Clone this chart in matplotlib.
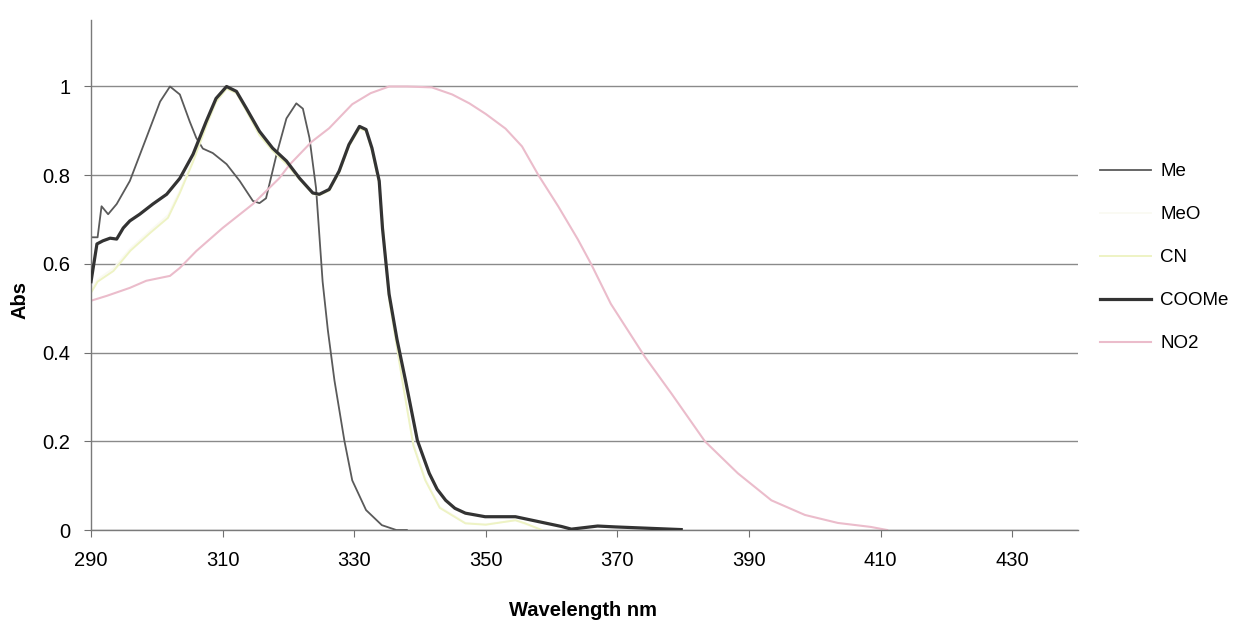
import matplotlib
matplotlib.use("Agg")
import matplotlib.pyplot as plt

plt.rcParams["font.family"] = ["Liberation Sans", "DejaVu Sans"]

OUTPUT_PNG = "out.png"

# Wavelength (nm) / absorbance
me_wl = [290, 291, 291.6, 292.6, 293.9, 295.9, 298.4, 300.5, 302, 303.5, 305, 306, 307,
         308.5, 310.6, 312.6, 314.6, 315.6, 316.6, 318.2, 319.7, 321.2, 322.2, 323.2,
         324.2, 325.2, 326, 327, 328.5, 329.7, 331.8, 334.2, 336.4, 338]
me_abs = [0.66, 0.66, 0.73, 0.712, 0.735, 0.787, 0.884, 0.966, 1.0, 0.982, 0.921, 0.884, 0.86,
          0.85, 0.825, 0.787, 0.742, 0.737, 0.748, 0.847, 0.928, 0.962, 0.95, 0.884,
          0.771, 0.56, 0.45, 0.337, 0.202, 0.112, 0.045, 0.011, 0.0, 0.0]

meo_wl = [290, 291, 293.4, 296, 299, 301.7, 303.5, 305.5, 307.5, 309, 310.6, 312.1, 313.6,
          315.6, 317.6, 319.7, 321.7, 323.7, 324.7, 326.2, 327.7, 329.2, 330.8, 331.8,
          332.7, 333.8, 335.3, 337.5, 339, 340.8, 343, 346.9, 350, 354.5, 358.5]
meo_abs = [0.54, 0.565, 0.59, 0.635, 0.675, 0.71, 0.765, 0.835, 0.915, 0.968, 0.997, 0.987, 0.948,
           0.893, 0.858, 0.828, 0.792, 0.759, 0.756, 0.766, 0.807, 0.867, 0.907, 0.901,
           0.858, 0.783, 0.525, 0.325, 0.195, 0.115, 0.052, 0.016, 0.013, 0.022, 0.0]

cn_wl = [290, 291, 293.4, 296, 299, 301.7, 303.5, 305.5, 307.5, 309, 310.6, 312.1, 313.6,
         315.6, 317.6, 319.7, 321.7, 323.7, 324.7, 326.2, 327.7, 329.2, 330.8, 331.8,
         332.7, 333.8, 335.3, 337.5, 339, 340.8, 343, 346.9, 350, 354.5, 356, 358.5]
cn_abs = [0.535, 0.56, 0.584, 0.63, 0.67, 0.704, 0.76, 0.83, 0.91, 0.965, 0.995, 0.985, 0.945,
          0.89, 0.855, 0.825, 0.79, 0.758, 0.755, 0.765, 0.805, 0.865, 0.905, 0.9,
          0.855, 0.78, 0.52, 0.32, 0.19, 0.112, 0.05, 0.015, 0.012, 0.022, 0.015, 0.0]

coome_wl = [290, 290.9, 291.8, 292.9, 293.9, 294.9, 295.9, 297.4, 299.4, 301.5, 303.5, 305.5,
            307.5, 309, 310.6, 312.1, 313.6, 315.6, 317.6, 319.7, 321.7, 323.7, 324.7, 326.2,
            327.7, 329.2, 330.8, 331.8, 332.7, 333.8, 334.3, 335.3, 336.5, 337.8, 339.6, 341.4,
            342.6, 343.9, 345.3, 346.9, 349.9, 354.5, 358, 361.5, 363, 367, 369.7, 374.7, 379.7]
coome_abs = [0.56, 0.645, 0.652, 0.658, 0.656, 0.681, 0.697, 0.712, 0.735, 0.757, 0.793, 0.847,
             0.921, 0.973, 1.0, 0.989, 0.951, 0.899, 0.861, 0.832, 0.793, 0.76, 0.757, 0.768,
             0.809, 0.869, 0.91, 0.903, 0.861, 0.787, 0.68, 0.532, 0.43, 0.337, 0.202, 0.128,
             0.092, 0.067, 0.049, 0.038, 0.03, 0.03, 0.019, 0.008, 0.002, 0.009, 0.007, 0.004, 0.001]

no2_wl = [290, 292.4, 295.9, 298.4, 302, 303.5, 306, 310, 314.6, 318.6, 320.2, 323.5, 326.2,
          329.7, 332.5, 335.3, 338, 341.8, 344.9, 347.5, 350, 353, 355.5, 358, 361, 364,
          366, 369, 374.2, 378.2, 383.3, 388.3, 393.4, 398.5, 403.5, 408.5, 411]
no2_abs = [0.517, 0.528, 0.546, 0.562, 0.573, 0.591, 0.629, 0.681, 0.735, 0.793, 0.824, 0.875, 0.906,
           0.96, 0.985, 1.0, 1.0, 0.998, 0.982, 0.962, 0.938, 0.905, 0.865, 0.8, 0.73, 0.655,
           0.6, 0.51, 0.39, 0.308, 0.2, 0.128, 0.067, 0.034, 0.016, 0.007, 0.0]

x_ticks = [290, 310, 330, 350, 370, 390, 410, 430]
y_ticks = [0, 0.2, 0.4, 0.6, 0.8, 1]
y_tick_labels = ["0", "0.2", "0.4", "0.6", "0.8", "1"]


def plot():
    fig = plt.figure(figsize=(12.52, 6.24), dpi=100)
    ax = fig.add_axes([0.0727, 0.1506, 0.7883, 0.8174])

    ax.plot(me_wl, me_abs, color="#5a5a5a", lw=1.3, label="Me")
    ax.plot(meo_wl, meo_abs, color="#fafaf2", lw=1.3, label="MeO")
    ax.plot(cn_wl, cn_abs, color="#eef3c4", lw=1.4, label="CN")
    ax.plot(no2_wl, no2_abs, color="#ebbccb", lw=1.5, label="NO2", zorder=2.5)
    ax.plot(coome_wl, coome_abs, color="#333333", lw=2.3, label="COOMe", zorder=3)

    ax.set_xlim(290, 440)
    ax.set_ylim(0, 1.15)
    ax.set_xticks(x_ticks)
    ax.set_yticks(y_ticks)
    ax.set_yticklabels(y_tick_labels)
    ax.tick_params(axis="both", labelsize=14.5, length=5, color="#707070", pad=10)

    ax.grid(axis="y", color="#8a8a8a", lw=1.0)
    ax.set_axisbelow(True)
    for side in ("top", "right"):
        ax.spines[side].set_visible(False)
    for side in ("left", "bottom"):
        ax.spines[side].set_color("#7a7a7a")
        ax.spines[side].set_linewidth(1.0)

    ax.set_xlabel("Wavelength nm", fontsize=14.5, fontweight="bold")
    ax.xaxis.set_label_coords(0.4985, -0.14)
    ax.set_ylabel("Abs", fontsize=14.5, fontweight="bold")
    ax.yaxis.set_label_coords(-0.062, 0.45)

    # legend order as in the original
    handles, labels = ax.get_legend_handles_labels()
    order = ["Me", "MeO", "CN", "COOMe", "NO2"]
    hmap = dict(zip(labels, handles))
    fig.legend([hmap[k] for k in order], order, loc="upper left",
               bbox_to_anchor=(1100 / 1252, 1 - 163 / 624), frameon=False,
               fontsize=13.5, handlelength=2.7, handletextpad=0.5,
               labelspacing=1.38, borderpad=0, borderaxespad=0)

    fig.savefig(OUTPUT_PNG, dpi=100)
    plt.close(fig)


if __name__ == "__main__":
    plot()
